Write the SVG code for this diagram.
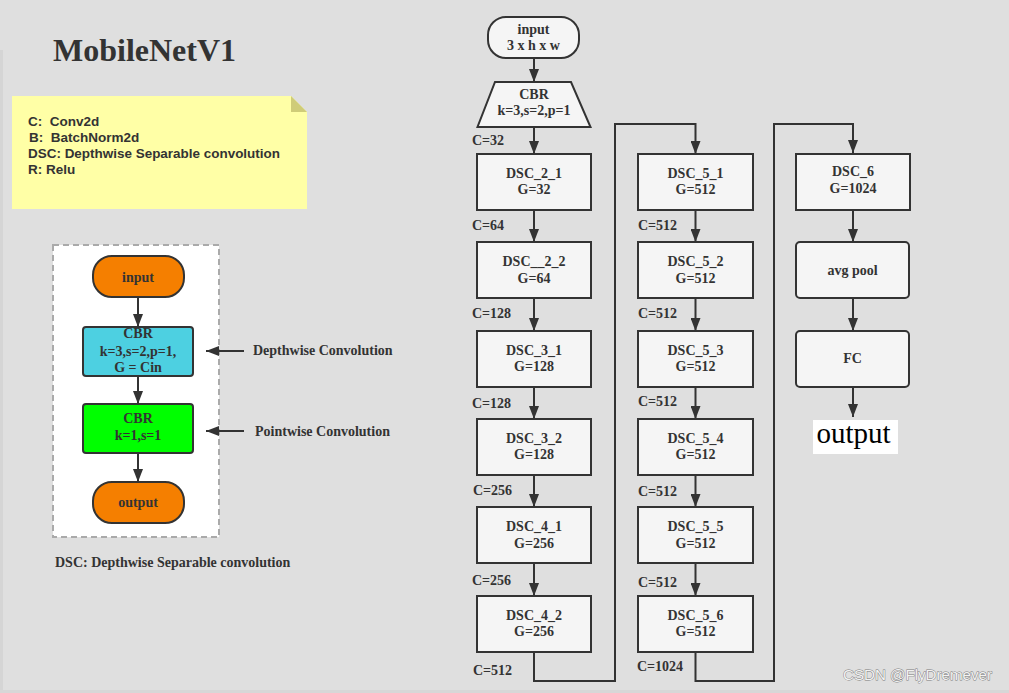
<svg xmlns="http://www.w3.org/2000/svg" width="1009" height="693" viewBox="0 0 1009 693">
<defs>
<marker id="ah" markerUnits="userSpaceOnUse" markerWidth="13" markerHeight="10" refX="13" refY="5" orient="auto">
<path d="M0,0 L13,5 L0,10 z" fill="#333"/>
</marker>
</defs>
<style>
.t{font-family:"Liberation Serif","Times New Roman",serif;font-weight:bold;font-size:14px;fill:#333;text-anchor:middle}
.l{font-family:"Liberation Serif","Times New Roman",serif;font-weight:bold;font-size:14px;fill:#333}
.n{font-family:"Liberation Sans",Arial,sans-serif;font-weight:bold;font-size:13.5px;fill:#333;white-space:pre}
.box{fill:#f5f5f5;stroke:#333;stroke-width:2}
.c{fill:none;stroke:#333;stroke-width:2}
.o{fill:#f57f00;stroke:#333;stroke-width:2}
</style>
<rect x="0" y="0" width="1009" height="693" fill="#dfdfdf"/>
<rect x="0" y="50" width="3" height="640" fill="#d5d5d5"/>
<rect x="0" y="690" width="1009" height="3" fill="#d7d7d7"/>

<text x="53" y="61" style="font-family:'Liberation Serif','Times New Roman',serif;font-weight:bold;font-size:32px;fill:#333">MobileNetV1</text>

<g id="note">
<path d="M12,96 H291 L307,112 V209 H12 z" fill="#ffffa6"/>
<path d="M291,96 L307,112 H291 z" fill="#cfcc78"/>
<text class="n" x="28" y="126">C:  Conv2d</text>
<text class="n" x="29" y="142">B:  BatchNorm2d</text>
<text class="n" x="28" y="158" textLength="252" lengthAdjust="spacingAndGlyphs">DSC: Depthwise Separable convolution</text>
<text class="n" x="28" y="174">R: Relu</text>
</g>

<g id="legend">
<rect x="53" y="245" width="166" height="292" fill="#fff" stroke="#aaa" stroke-width="2" stroke-dasharray="6,4"/>
<g id="l-input"><rect class="o" x="93" y="256" width="91" height="41" rx="19"/><text class="t" x="138" y="282">input</text></g>
<g id="l-dw"><rect x="83" y="327" width="110" height="49" rx="3" fill="#4dd0e1" stroke="#333" stroke-width="2"/>
<text class="t" x="138" y="338">CBR</text><text class="t" x="138" y="356">k=3,s=2,p=1,</text><text class="t" x="138" y="372">G = Cin</text></g>
<g id="l-pw"><rect x="83" y="404" width="110" height="49" rx="3" fill="#00ff00" stroke="#333" stroke-width="2"/>
<text class="t" x="138" y="423">CBR</text><text class="t" x="138" y="440">k=1,s=1</text></g>
<g id="l-output"><rect class="o" x="93" y="482" width="91" height="41" rx="19"/><text class="t" x="138" y="507">output</text></g>
<text class="l" x="253" y="355">Depthwise Convolution</text>
<text class="l" x="255" y="436">Pointwise Convolution</text>
<text class="l" x="55" y="567">DSC: Depthwise Separable convolution</text>
</g>

<g id="connectors">
<path class="c" d="M138,297 V327" marker-end="url(#ah)"/>
<path class="c" d="M138,376 V404" marker-end="url(#ah)"/>
<path class="c" d="M138,453 V482" marker-end="url(#ah)"/>
<path class="c" d="M244,351 H206" marker-end="url(#ah)"/>
<path class="c" d="M244,431 H206" marker-end="url(#ah)"/>

<path class="c" d="M534,58 V82" marker-end="url(#ah)"/>
<path class="c" d="M534,127 V154" marker-end="url(#ah)"/>
<path class="c" d="M534,210 V242" marker-end="url(#ah)"/>
<path class="c" d="M534,298 V331" marker-end="url(#ah)"/>
<path class="c" d="M534,387 V419" marker-end="url(#ah)"/>
<path class="c" d="M534,475 V507" marker-end="url(#ah)"/>
<path class="c" d="M534,563 V596" marker-end="url(#ah)"/>
<path class="c" d="M534,652 V681 H615 V124 H695.5 V154" marker-end="url(#ah)"/>

<path class="c" d="M695.5,210 V242" marker-end="url(#ah)"/>
<path class="c" d="M695.5,298 V331" marker-end="url(#ah)"/>
<path class="c" d="M695.5,387 V419" marker-end="url(#ah)"/>
<path class="c" d="M695.5,475 V507" marker-end="url(#ah)"/>
<path class="c" d="M695.5,563 V596" marker-end="url(#ah)"/>
<path class="c" d="M695.5,652 V681 H774 V124 H853 V153" marker-end="url(#ah)"/>

<path class="c" d="M853,210 V242" marker-end="url(#ah)"/>
<path class="c" d="M853,298 V331" marker-end="url(#ah)"/>
<path class="c" d="M853,387 V417" marker-end="url(#ah)"/>
</g>

<g id="input"><rect class="box" x="488" y="17" width="91" height="41" rx="18"/>
<text class="t" x="533.5" y="34">input</text><text class="t" x="533.5" y="50">3 x h x w</text></g>
<g id="cbr"><path class="box" d="M495,82 H571 L590.5,127 H477.5 z"/>
<text class="t" x="534" y="99">CBR</text><text class="t" x="534" y="115">k=3,s=2,p=1</text></g>

<g id="dsc_2_1"><rect class="box" x="477" y="154" width="114" height="56"/><text class="t" x="534" y="178">DSC_2_1</text><text class="t" x="534" y="194">G=32</text></g>
<g id="dsc_2_2"><rect class="box" x="477" y="242" width="114" height="56"/><text class="t" x="534" y="266">DSC__2_2</text><text class="t" x="534" y="283">G=64</text></g>
<g id="dsc_3_1"><rect class="box" x="477" y="331" width="114" height="56"/><text class="t" x="534" y="355">DSC_3_1</text><text class="t" x="534" y="371">G=128</text></g>
<g id="dsc_3_2"><rect class="box" x="477" y="419" width="114" height="56"/><text class="t" x="534" y="443">DSC_3_2</text><text class="t" x="534" y="459">G=128</text></g>
<g id="dsc_4_1"><rect class="box" x="477" y="507" width="114" height="56"/><text class="t" x="534" y="531">DSC_4_1</text><text class="t" x="534" y="548">G=256</text></g>
<g id="dsc_4_2"><rect class="box" x="477" y="596" width="114" height="56"/><text class="t" x="534" y="620">DSC_4_2</text><text class="t" x="534" y="636">G=256</text></g>

<g id="dsc_5_1"><rect class="box" x="638" y="154" width="115" height="56"/><text class="t" x="695.5" y="178">DSC_5_1</text><text class="t" x="695.5" y="194">G=512</text></g>
<g id="dsc_5_2"><rect class="box" x="638" y="242" width="115" height="56"/><text class="t" x="695.5" y="266">DSC_5_2</text><text class="t" x="695.5" y="283">G=512</text></g>
<g id="dsc_5_3"><rect class="box" x="638" y="331" width="115" height="56"/><text class="t" x="695.5" y="355">DSC_5_3</text><text class="t" x="695.5" y="371">G=512</text></g>
<g id="dsc_5_4"><rect class="box" x="638" y="419" width="115" height="56"/><text class="t" x="695.5" y="443">DSC_5_4</text><text class="t" x="695.5" y="459">G=512</text></g>
<g id="dsc_5_5"><rect class="box" x="638" y="507" width="115" height="56"/><text class="t" x="695.5" y="531">DSC_5_5</text><text class="t" x="695.5" y="548">G=512</text></g>
<g id="dsc_5_6"><rect class="box" x="638" y="596" width="115" height="56"/><text class="t" x="695.5" y="620">DSC_5_6</text><text class="t" x="695.5" y="636">G=512</text></g>

<g id="dsc_6"><rect class="box" x="796" y="154" width="114" height="56"/><text class="t" x="853" y="176">DSC_6</text><text class="t" x="853" y="193">G=1024</text></g>
<g id="avgpool"><rect class="box" x="796" y="242" width="113" height="56" rx="4"/><text class="t" x="852.5" y="275">avg pool</text></g>
<g id="fc"><rect class="box" x="796" y="331" width="113" height="56" rx="4"/><text class="t" x="852.5" y="363">FC</text></g>
<g id="output"><rect x="813" y="420" width="85" height="34" fill="#fff"/>
<text x="853.5" y="443" style="font-family:'Liberation Serif','Times New Roman',serif;font-size:29px;fill:#000;text-anchor:middle">output</text></g>

<g id="clabels">
<text class="l" x="472" y="145">C=32</text>
<text class="l" x="472" y="230">C=64</text>
<text class="l" x="472" y="318">C=128</text>
<text class="l" x="472" y="408">C=128</text>
<text class="l" x="473" y="495">C=256</text>
<text class="l" x="472" y="585">C=256</text>
<text class="l" x="473" y="675">C=512</text>
<text class="l" x="638" y="230">C=512</text>
<text class="l" x="638" y="318">C=512</text>
<text class="l" x="638" y="406">C=512</text>
<text class="l" x="638" y="496">C=512</text>
<text class="l" x="638" y="587">C=512</text>
<text class="l" x="637" y="671">C=1024</text>
</g>

<text x="843" y="680" textLength="149" lengthAdjust="spacingAndGlyphs" style="font-family:'Liberation Sans',Arial,sans-serif;font-size:15px;fill:#f2f2f2;stroke:#7a7a7a;stroke-width:0.9;paint-order:stroke">CSDN @FlyDremever</text>
</svg>
